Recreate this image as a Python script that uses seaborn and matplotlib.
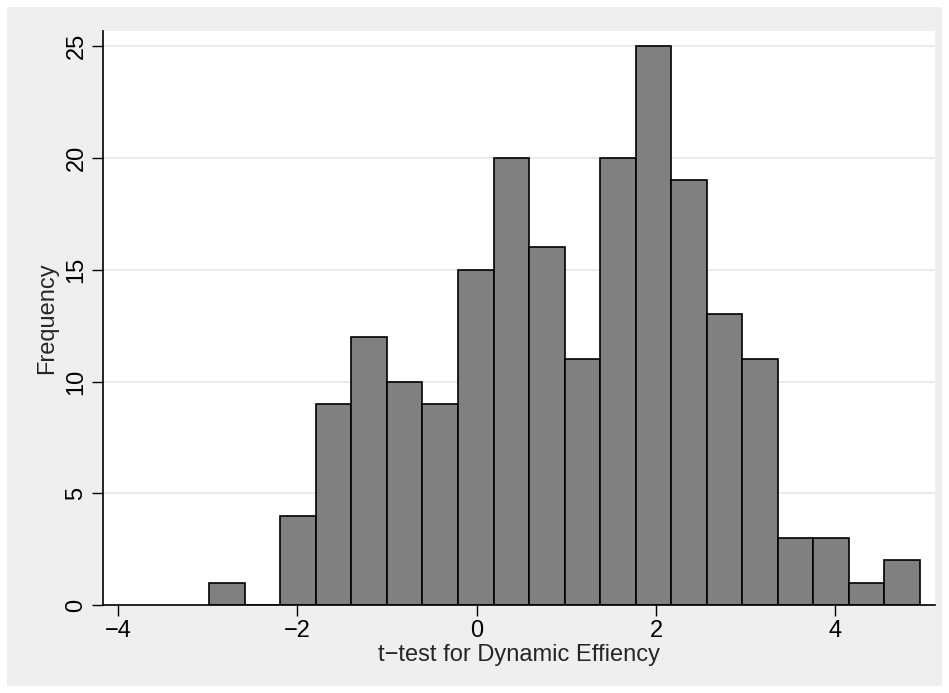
import matplotlib
matplotlib.use("Agg")
import matplotlib.pyplot as plt
import numpy as np
import pandas as pd
import seaborn as sns
from matplotlib.patches import Rectangle

# Histogram of t-statistics, counts per bin
bin_start = -2.98
bin_width = 0.396
counts = [1, 0, 4, 9, 12, 10, 9, 15, 20, 16, 11, 20, 25, 19, 13, 11, 3, 3, 1, 2]
x_ticks = [-4, -2, 0, 2, 4]
y_ticks = [0, 5, 10, 15, 20, 25]

edges = bin_start + bin_width * np.arange(len(counts) + 1)
df = pd.DataFrame({"t": edges[:-1] + bin_width / 2, "n": counts})

sns.set_theme(style="white")
plt.rcParams["font.family"] = ["Liberation Sans", "DejaVu Sans"]

fig = plt.figure(figsize=(9.49, 6.93), dpi=100)
fig.patch.set_facecolor("white")
# Stata-like grey outer region
fig.add_artist(Rectangle((7 / 949, 7 / 693), 935 / 949, 679 / 693,
                         transform=fig.transFigure, facecolor="#efefef",
                         edgecolor="none", zorder=-10))

ax = fig.add_axes([0.1082, 0.127, 0.8770, 0.8287])
ax.set_facecolor("white")

sns.histplot(data=df, x="t", weights="n", bins=list(edges), ax=ax,
             color="#808080", alpha=1.0, edgecolor="black", linewidth=1.2)

ax.set_xlim(-4.17, 5.11)
ax.set_ylim(0, 25.7)
ax.set_xticks(x_ticks)
ax.set_yticks(y_ticks)
ax.yaxis.grid(True, color="#e6e6e6", linewidth=1.2)
ax.set_axisbelow(True)

for side in ["top", "right"]:
    ax.spines[side].set_visible(False)
for side in ["left", "bottom"]:
    ax.spines[side].set_color("black")
    ax.spines[side].set_linewidth(1.2)

ax.tick_params(axis="both", direction="out", length=8, width=1.0,
               color="black", labelsize=17, labelcolor="black",
               bottom=True, left=True, pad=3)
plt.setp(ax.get_yticklabels(), rotation=90, va="center")

ax.set_xlabel("t\u2212test for Dynamic Effiency", fontsize=17, labelpad=1)
ax.set_ylabel("Frequency", fontsize=17, labelpad=5)

fig.savefig("out.png", dpi=100)
